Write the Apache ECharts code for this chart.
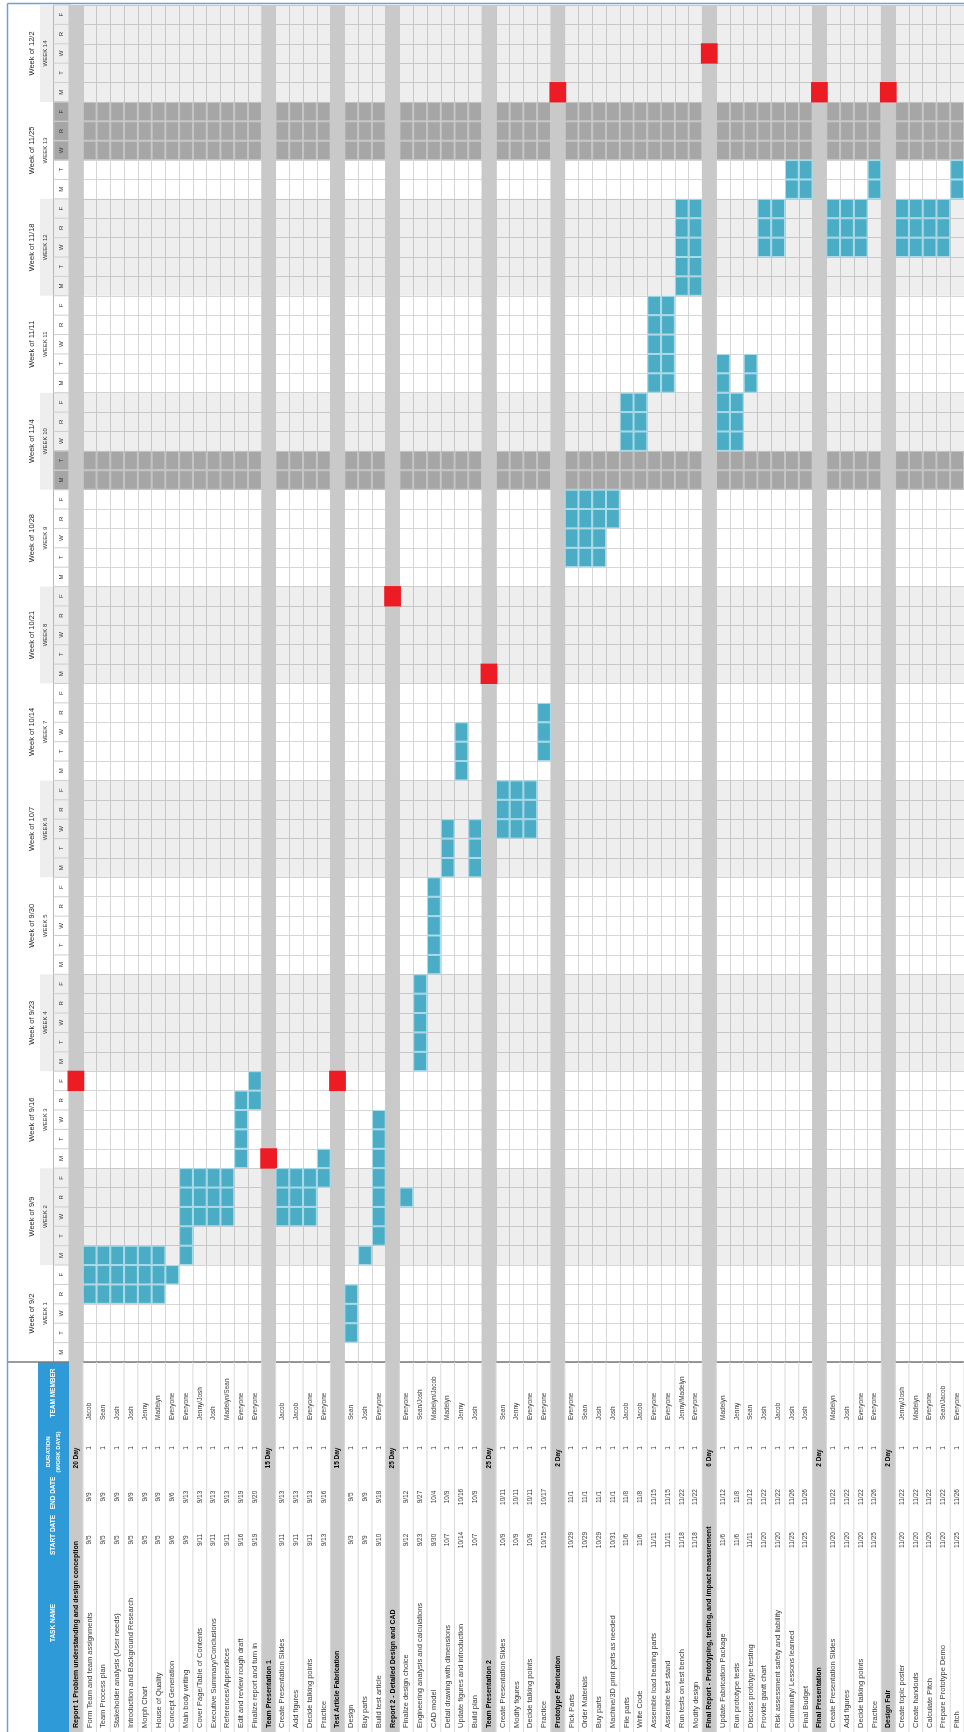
<!DOCTYPE html>
<html><head><meta charset="utf-8">
<script src="https://cdn.jsdelivr.net/npm/echarts@6/dist/echarts.min.js"></script>
<style>html,body{margin:0;padding:0;background:#fff}#c{width:964px;height:1732px}</style>
</head><body><div id="c"></div>
<script>
// ---------------- DATA ----------------
const days = [
 '9/2','9/3','9/4','9/5','9/6',
 '9/9','9/10','9/11','9/12','9/13',
 '9/16','9/17','9/18','9/19','9/20',
 '9/23','9/24','9/25','9/26','9/27',
 '9/30','10/1','10/2','10/3','10/4',
 '10/7','10/8','10/9','10/10','10/11',
 '10/14','10/15','10/16','10/17','10/18',
 '10/21','10/22','10/23','10/24','10/25',
 '10/28','10/29','10/30','10/31','11/1',
 '11/4','11/5','11/6','11/7','11/8',
 '11/11','11/12','11/13','11/14','11/15',
 '11/18','11/19','11/20','11/21','11/22',
 '11/25','11/26','11/27','11/28','11/29',
 '12/2','12/3','12/4','12/5','12/6'
];
const dayLetters = ['M','T','W','R','F'];
const weekStarts = ['9/2','9/9','9/16','9/23','9/30','10/7','10/14','10/21','10/28','11/4','11/11','11/18','11/25','12/2'];
const weekNames = ['WEEK 1','WEEK 2','WEEK 3','WEEK 4','WEEK 5','WEEK 6','WEEK 7','WEEK 8','WEEK 9','WEEK 10','WEEK 11','WEEK 12','WEEK 13','WEEK 14'];
const holidays = ['11/4','11/5','11/27','11/28','11/29'];

const taskNames = [
 'Report 1 Problem understanding and design conception',
 'Form Team and team assignments','Team Process plan','Stakeholder analysis (User needs)',
 'Introduction and Background Research','Morph Chart','House of Quality','Concept Generation',
 'Main body writing','Cover Page/Table of Contents','Executive Summary/Conclusions',
 'References/Appendices','Edit and review rough draft','Finalize report and turn in',
 'Team Presentation 1',
 'Create Presentation Slides','Add figures','Decide talking points','Practice',
 'Test Article Fabrication',
 'Design','Buy parts','Build test article',
 'Report 2 - Detailed Design and CAD',
 'Finalize design choice','Engineering analysis and calculations','CAD model',
 'Detail drawing with dimensions','Update figures and introduction','Build plan',
 'Team Presentation 2',
 'Create Presentation Slides','Modify figures','Decide talking points','Practice',
 'Prototype Fabrication',
 'Pick Parts','Order Materials','Buy parts','Machine/3D print parts as needed','File parts',
 'Write Code','Assemble load bearing parts','Assemble test stand','Run tests on test bench','Modify design',
 'Final Report - Prototyping, testing, and impact measurement',
 'Update Fabrication Package','Run prototype tests','Discuss prototype testing','Provide gantt chart',
 'Risk assessment safety and liability','Community/ Lessons learned','Final Budget',
 'Final Presentation',
 'Create Presentation Slides','Add figures','Decide talking points','Practice',
 'Design Fair',
 'Create topic poster','Create handouts','Calculate Pitch','Prepare Prototype Demo','Pitch'
];
const headerCols = [0,14,19,23,30,35,46,54,59];
const sectionDue = ['9/20','9/16','9/20','10/25','10/21','12/2','12/4','12/2','12/2'];
const taskStart = [
 '', '9/5','9/5','9/5','9/5','9/5','9/5','9/6','9/9','9/11','9/11','9/11','9/16','9/19',
 '', '9/11','9/11','9/11','9/13',
 '', '9/3','9/9','9/10',
 '', '9/12','9/23','9/30','10/7','10/14','10/7',
 '', '10/9','10/9','10/9','10/15',
 '', '10/29','10/29','10/29','10/31','11/6','11/6','11/11','11/11','11/18','11/18',
 '', '11/6','11/6','11/11','11/20','11/20','11/25','11/25',
 '', '11/20','11/20','11/20','11/25',
 '', '11/20','11/20','11/20','11/20','11/25'
];
const taskEnd = [
 '', '9/9','9/9','9/9','9/9','9/9','9/9','9/6','9/13','9/13','9/13','9/13','9/19','9/20',
 '', '9/13','9/13','9/13','9/16',
 '', '9/5','9/9','9/18',
 '', '9/12','9/27','10/4','10/9','10/16','10/9',
 '', '10/11','10/11','10/11','10/17',
 '', '11/1','11/1','11/1','11/1','11/8','11/8','11/15','11/15','11/22','11/22',
 '', '11/12','11/8','11/12','11/22','11/22','11/26','11/26',
 '', '11/22','11/22','11/22','11/26',
 '', '11/22','11/22','11/22','11/22','11/26'
];
const durations = [
 '20 Day', '1','1','1','1','1','1','1','1','1','1','1','1','1',
 '15 Day', '1','1','1','1',
 '15 Day', '1','1','1',
 '25 Day', '1','1','1','1','1','1',
 '25 Day', '1','1','1','1',
 '2 Day', '1','1','1','1','1','1','1','1','1','1',
 '6 Day', '1','1','1','1','1','1','1',
 '2 Day', '1','1','1','1',
 '2 Day', '1','1','1','1','1'
];
const members = [
 '', 'Jacob','Sean','Josh','Josh','Jenny','Madelyn','Everyone','Everyone','Jenny/Josh','Josh','Madelyn/Sean','Everyone','Everyone',
 '', 'Jacob','Jacob','Everyone','Everyone',
 '', 'Sean','Josh','Everyone',
 '', 'Everyone','Sean/Josh','Madelyn/Jacob','Madelyn','Jenny','Josh',
 '', 'Sean','Jenny','Everyone','Everyone',
 '', 'Everyone','Sean','Josh','Josh','Jacob','Jacob','Everyone','Everyone','Jenny/Madelyn','Everyone',
 '', 'Madelyn','Jenny','Sean','Josh','Jacob','Josh','Josh',
 '', 'Madelyn','Josh','Everyone','Everyone',
 '', 'Jenny/Josh','Madelyn','Everyone','Sean/Jacob','Everyone'
];
const tableHeaders = ['TASK NAME','START DATE','END DATE','DURATION|(WORK DAYS)','TEAM MEMBER'];

// ---------------- BUILD ----------------
const isHeader = c => headerCols.indexOf(c) >= 0;
const taskCells = [];
taskStart.forEach((s, c) => {
  if (!s) return;
  const a = days.indexOf(s), b = days.indexOf(taskEnd[c]);
  for (let r = a; r <= b; r++) taskCells.push([c, r]);
});
const holidayCells = [];
holidays.forEach(h => {
  const r = days.indexOf(h);
  holidayCells.push([0, r, 1]);
  for (let c = 0; c < taskNames.length; c++) if (!isHeader(c)) holidayCells.push([c, r, 0]);
});
const dueCells = headerCols.map((c, i) => [c, days.indexOf(sectionDue[i])]);
const bandCells = headerCols.map(c => [c, 0]);
const weekCells = weekStarts.map((w, i) => [0, days.indexOf(w), i]);
const dayCells = days.map((d, i) => [0, i]);
const tableCells = taskNames.map((n, i) => [i, 0]);

// ---------------- LAYOUT / STYLE ----------------
const FONT = '"Liberation Sans", Arial, sans-serif';
const TABLE_H = 370;
const ROT = Math.PI / 2;
function cell(api, c, r) {
  const p = api.coord([c, r]); const s = api.size([1, 1]);
  return { x: p[0] - s[0] / 2, y: p[1] - s[1] / 2, w: s[0], h: s[1], cx: p[0], cy: p[1] };
}
function vtext(x, y, text, font, fill, align) {
  return { type: 'text', x: x, y: y, rotation: ROT,
    style: { text: text, fill: fill, font: font, align: align, verticalAlign: 'middle',
             textAlign: align, textVerticalAlign: 'middle' } };
}

const option = {
  animation: false,
  backgroundColor: '#ffffff',
  grid: { left: 69, top: 5, width: 899.4, height: 1357 },
  xAxis: {
    type: 'category', data: taskNames.map((n, i) => String(i)),
    axisLine: { show: true, lineStyle: { color: '#7a7a7a', width: 1.5 } },
    axisTick: { show: false }, axisLabel: { show: false },
    splitLine: { show: true, interval: 0, lineStyle: { color: '#d6d6d6', width: 1 } }
  },
  yAxis: {
    type: 'category', data: days,
    axisLine: { show: true, lineStyle: { color: '#9a9a9a', width: 1 } },
    axisTick: { show: false }, axisLabel: { show: false },
    splitLine: { show: true, interval: 0, lineStyle: { color: '#d6d6d6', width: 1 } }
  },
  graphic: [
    { type: 'rect', shape: { x: 38, y: 1362, width: 31, height: 370 }, style: { fill: '#2e9ad8' }, z: 10 },
    { type: 'line', shape: { x1: 8, y1: 1362, x2: 69, y2: 1362 }, style: { stroke: '#7a7a7a', lineWidth: 1.5 }, z: 11 },
    { type: 'line', shape: { x1: 7.5, y1: 3.5, x2: 964, y2: 3.5 }, style: { stroke: '#6e9fd6', lineWidth: 1.5 }, z: 11 },
    { type: 'line', shape: { x1: 7.5, y1: 3.5, x2: 7.5, y2: 1732 }, style: { stroke: '#6e9fd6', lineWidth: 1.5 }, z: 11 },
    { type: 'text', x: 53.5, y: 1623, rotation: ROT, z: 12,
      style: { text: tableHeaders[0], fill: '#fff', font: 'bold 6.5px ' + FONT, align: 'center', verticalAlign: 'middle', textAlign: 'center', textVerticalAlign: 'middle' } },
    { type: 'text', x: 53.5, y: 1535, rotation: ROT, z: 12,
      style: { text: tableHeaders[1], fill: '#fff', font: 'bold 6.5px ' + FONT, align: 'center', verticalAlign: 'middle', textAlign: 'center', textVerticalAlign: 'middle' } },
    { type: 'text', x: 53.5, y: 1493, rotation: ROT, z: 12,
      style: { text: tableHeaders[2], fill: '#fff', font: 'bold 6.5px ' + FONT, align: 'center', verticalAlign: 'middle', textAlign: 'center', textVerticalAlign: 'middle' } },
    { type: 'text', x: 48, y: 1452, rotation: ROT, z: 12,
      style: { text: tableHeaders[3].split('|')[0], fill: '#fff', font: 'bold 6px ' + FONT, align: 'center', verticalAlign: 'middle', textAlign: 'center', textVerticalAlign: 'middle' } },
    { type: 'text', x: 58.5, y: 1452, rotation: ROT, z: 12,
      style: { text: tableHeaders[3].split('|')[1], fill: '#fff', font: 'bold 6px ' + FONT, align: 'center', verticalAlign: 'middle', textAlign: 'center', textVerticalAlign: 'middle' } },
    { type: 'text', x: 53.5, y: 1393, rotation: ROT, z: 12,
      style: { text: tableHeaders[4], fill: '#fff', font: 'bold 6.5px ' + FONT, align: 'center', verticalAlign: 'middle', textAlign: 'center', textVerticalAlign: 'middle' } }
  ],
  series: [
    { // alternate week shading
      type: 'custom', name: 'weeks', z: 1, clip: false, silent: true,
      data: weekCells.filter(d => d[2] % 2 === 1),
      renderItem: (params, api) => {
        const cs = params.coordSys;
        const r0 = api.value(1);
        const lo = cell(api, 0, r0), hi = cell(api, 0, r0 + 4);
        const x0 = cs.x - 29;
        return { type: 'rect', shape: { x: x0, y: hi.y, width: cs.x + cs.width - x0, height: lo.y + lo.h - hi.y },
          style: { fill: 'rgba(0,0,0,0.065)' } };
      }
    },
    { // holiday rows
      type: 'custom', name: 'holidays', z: 2, clip: false, silent: true,
      data: holidayCells,
      renderItem: (params, api) => {
        const cs = params.coordSys;
        const b = cell(api, api.value(0), api.value(1));
        if (api.value(2) === 1) {
          return { type: 'rect', shape: { x: cs.x - 15, y: b.y, width: 15, height: b.h },
            style: { fill: '#a6a6a6', stroke: '#c4c4c4', lineWidth: 1 } };
        }
        return { type: 'rect', shape: { x: b.x + 0.5, y: b.y + 0.5, width: b.w - 1, height: b.h - 1 },
          style: { fill: '#a6a6a6', stroke: '#c4c4c4', lineWidth: 1 } };
      }
    },
    { // week labels and divider
      type: 'custom', name: 'weekLabels', z: 3, clip: false, silent: true,
      data: weekCells,
      renderItem: (params, api) => {
        const cs = params.coordSys;
        const r0 = api.value(1), i = api.value(2);
        const lo = cell(api, 0, r0), hi = cell(api, 0, r0 + 4);
        const cy = (hi.y + lo.y + lo.h) / 2;
        return { type: 'group', children: [
          vtext(cs.x - 37, cy, 'Week of ' + weekStarts[i], '7.5px ' + FONT, '#222', 'center'),
          vtext(cs.x - 23.5, cy, weekNames[i], '6px ' + FONT, '#333', 'center'),
          { type: 'line', shape: { x1: cs.x - 15.5, y1: hi.y, x2: cs.x - 15.5, y2: lo.y + lo.h }, style: { stroke: '#b8b8b8', lineWidth: 1 } }
        ] };
      }
    },
    { // day letters
      type: 'custom', name: 'dayLabels', z: 3, clip: false, silent: true,
      data: dayCells,
      renderItem: (params, api) => {
        const cs = params.coordSys;
        const r = api.value(1);
        const b = cell(api, 0, r);
        return { type: 'group', children: [
          vtext(cs.x - 7.5, b.cy, dayLetters[r % 5], '6px ' + FONT, '#333', 'center'),
          { type: 'line', shape: { x1: cs.x - 15.5, y1: b.y, x2: cs.x, y2: b.y }, style: { stroke: '#cfcfcf', lineWidth: 1 } }
        ] };
      }
    },
    { // section header columns
      type: 'custom', name: 'sections', z: 4, clip: false, silent: true,
      data: bandCells,
      renderItem: (params, api) => {
        const cs = params.coordSys;
        const b = cell(api, api.value(0), 0);
        return { type: 'rect', shape: { x: b.x - 0.5, y: cs.y, width: b.w + 1, height: cs.height + TABLE_H },
          style: { fill: '#c9c9c9' } };
      }
    },
    { // deadlines
      type: 'custom', name: 'deadlines', z: 5, clip: false, silent: true,
      data: dueCells,
      renderItem: (params, api) => {
        const b = cell(api, api.value(0), api.value(1));
        return { type: 'rect', shape: { x: b.x - 1.5, y: b.y - 0.5, width: b.w + 3, height: b.h + 1 },
          style: { fill: '#ed1c24' } };
      }
    },
    { // task days
      type: 'custom', name: 'tasks', z: 6, clip: false, silent: true,
      data: taskCells,
      renderItem: (params, api) => {
        const b = cell(api, api.value(0), api.value(1));
        return { type: 'rect', shape: { x: b.x + 0.5, y: b.y + 0.5, width: b.w - 1, height: b.h - 1 },
          style: { fill: '#4bacc6', stroke: '#a9dbe9', lineWidth: 1 } };
      }
    },
    { // table below the chart
      type: 'custom', name: 'table', z: 7, clip: false, silent: true,
      data: tableCells,
      renderItem: (params, api) => {
        const cs = params.coordSys;
        const c = api.value(0);
        const b = cell(api, c, 0);
        const base = cs.y + cs.height;
        const hd = isHeader(c);
        const kids = [
          { type: 'line', shape: { x1: b.x + b.w, y1: base, x2: b.x + b.w, y2: base + TABLE_H }, style: { stroke: '#d9d9d9', lineWidth: 1 } },
          vtext(b.cx, base + 366, taskNames[c], (hd ? 'bold 7px ' : '7.5px ') + FONT, hd ? '#000' : '#3a3a3a', 'left')
        ];
        if (hd) {
          kids.push(vtext(b.cx, base + 96, durations[c], 'bold 6.5px ' + FONT, '#000', 'center'));
        } else {
          kids.push(vtext(b.cx, base + 178, taskStart[c], '6.5px ' + FONT, '#3a3a3a', 'center'));
          kids.push(vtext(b.cx, base + 135, taskEnd[c], '6.5px ' + FONT, '#3a3a3a', 'center'));
          kids.push(vtext(b.cx, base + 86, durations[c], '6.5px ' + FONT, '#3a3a3a', 'center'));
          kids.push(vtext(b.cx, base + 58, members[c], '6.5px ' + FONT, '#3a3a3a', 'left'));
        }
        return { type: 'group', children: kids };
      }
    }
  ]
};
const chart = echarts.init(document.getElementById('c'));
chart.setOption(option);
</script></body></html>
